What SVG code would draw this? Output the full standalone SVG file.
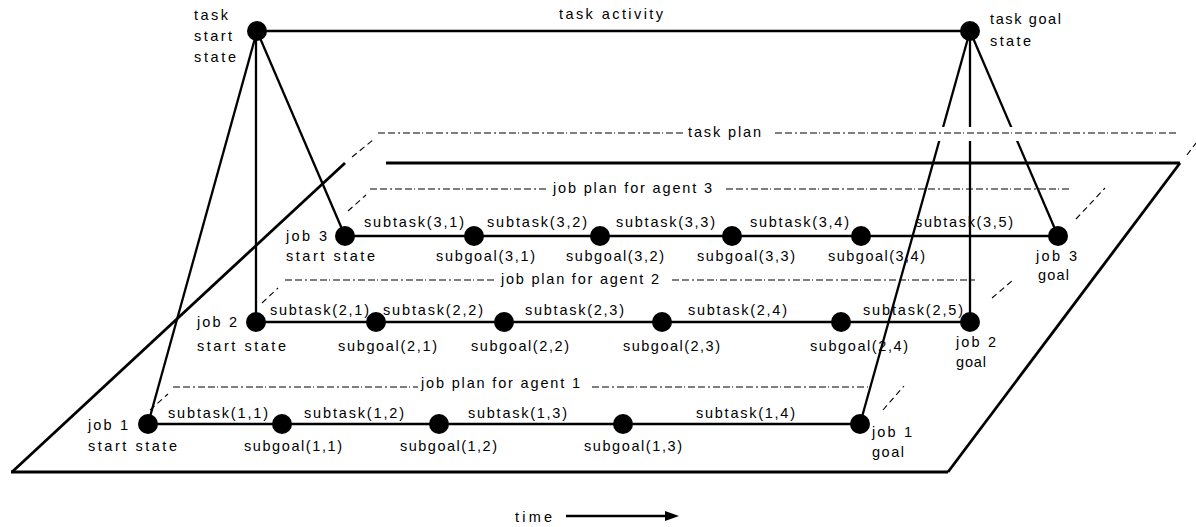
<svg xmlns="http://www.w3.org/2000/svg" width="1196" height="527" viewBox="0 0 1196 527">
<style>
text{font-family:"Liberation Sans",Arial,Helvetica,sans-serif;font-size:14.5px;fill:#000}
.plane{fill:none;stroke:#000;stroke-width:2.8}
.dash{fill:none;stroke:#000;stroke-width:1.2;stroke-dasharray:7 3 7 3 2 3 7 3 7 2 1 3}
.dd{fill:none;stroke:#000;stroke-width:1.1;stroke-dasharray:6 4}
.conn{stroke:#000;stroke-width:2.3;fill:none}
.node{fill:#000}
</style>
<rect width="1196" height="527" fill="#fff"/>
<g id="plane">
<line class="plane" x1="12" y1="472" x2="345" y2="163"/>
<line class="plane" x1="386" y1="163" x2="1180" y2="163"/>
<line class="plane" x1="1180" y1="163" x2="948" y2="472"/>
<line class="plane" x1="948" y1="472" x2="11" y2="472"/>
</g>
<g id="job-plans">
<line class="dash" x1="173" y1="387" x2="418" y2="387"/>
<line class="dash" x1="592" y1="387" x2="868" y2="387"/>
<line class="dd" x1="150" y1="410" x2="168" y2="394"/>
<line class="dd" x1="883" y1="410" x2="904" y2="386"/>
<text x="421" y="388" textLength="159" lengthAdjust="spacing">job plan for agent 1</text>
<line class="dash" x1="285" y1="280" x2="497" y2="280"/>
<line class="dash" x1="672" y1="280" x2="975" y2="280"/>
<line class="dd" x1="262" y1="303" x2="278" y2="288"/>
<line class="dd" x1="992" y1="298" x2="1013" y2="280"/>
<text x="501" y="284" textLength="158" lengthAdjust="spacing">job plan for agent 2</text>
<line class="dash" x1="370" y1="189" x2="548" y2="189"/>
<line class="dash" x1="726" y1="189" x2="1070" y2="189"/>
<line class="dd" x1="348" y1="211" x2="366" y2="195"/>
<line class="dd" x1="1076" y1="219" x2="1105" y2="188"/>
<text x="553" y="193" textLength="159" lengthAdjust="spacing">job plan for agent 3</text>
</g>
<g id="connectors">
<line class="conn" x1="257" y1="31" x2="970" y2="31"/>
<line class="conn" x1="257" y1="31" x2="148" y2="424"/>
<line class="conn" x1="256" y1="31" x2="256" y2="322"/>
<line class="conn" x1="257" y1="31" x2="345" y2="236"/>
<line class="conn" x1="970" y1="31" x2="860" y2="424"/>
<line class="conn" x1="970" y1="31" x2="970" y2="322"/>
<line class="conn" x1="970" y1="31" x2="1058" y2="236"/>
<line class="conn" x1="345" y1="236" x2="1058" y2="236"/>
<line class="conn" x1="256" y1="322" x2="970" y2="322"/>
<line class="conn" x1="148" y1="424" x2="860" y2="424"/>
</g>
<g id="task-plan">
<rect x="378" y="127" width="800" height="14" fill="#fff"/>
<line class="dash" x1="378" y1="133" x2="684" y2="133"/>
<line class="dash" x1="775" y1="133" x2="1177" y2="133"/>
<line class="dd" x1="352" y1="157" x2="373" y2="140"/>
<line class="dd" x1="1187" y1="155" x2="1196" y2="143"/>
<text x="688" y="137" textLength="73" lengthAdjust="spacing">task plan</text>
</g>
<g id="task-activity-label">
<text x="559" y="19" textLength="104" lengthAdjust="spacing">task activity</text>
</g>
<g id="task-start">
<circle class="node" cx="257" cy="31" r="10"/>
<text x="194" y="20" textLength="34" lengthAdjust="spacing">task</text>
<text x="194" y="41" textLength="38" lengthAdjust="spacing">start</text>
<text x="194" y="62" textLength="42" lengthAdjust="spacing">state</text>
</g>
<g id="task-goal">
<circle class="node" cx="970" cy="31" r="10"/>
<text x="990" y="24" textLength="71" lengthAdjust="spacing">task goal</text>
<text x="990" y="46" textLength="41" lengthAdjust="spacing">state</text>
</g>
<g id="job3-start">
<circle class="node" cx="345" cy="236" r="10"/>
<text x="286" y="241" textLength="41" lengthAdjust="spacing">job 3</text>
<text x="286" y="261" textLength="89" lengthAdjust="spacing">start state</text>
</g>
<g id="subgoal-3-1"><circle class="node" cx="474" cy="236" r="10"/><text x="436" y="261" textLength="99" lengthAdjust="spacing">subgoal(3,1)</text></g>
<g id="subgoal-3-2"><circle class="node" cx="600" cy="236" r="10"/><text x="566" y="261" textLength="98" lengthAdjust="spacing">subgoal(3,2)</text></g>
<g id="subgoal-3-3"><circle class="node" cx="732" cy="236" r="10"/><text x="697" y="261" textLength="98" lengthAdjust="spacing">subgoal(3,3)</text></g>
<g id="subgoal-3-4"><circle class="node" cx="861" cy="236" r="10"/><text x="828" y="261" textLength="97" lengthAdjust="spacing">subgoal(3,4)</text></g>
<g id="job3-goal">
<circle class="node" cx="1058" cy="236" r="10"/>
<text x="1036" y="261" textLength="41" lengthAdjust="spacing">job 3</text>
<text x="1038" y="280" textLength="31" lengthAdjust="spacing">goal</text>
</g>
<g id="subtasks-3">
<text x="364" y="227" textLength="100" lengthAdjust="spacing">subtask(3,1)</text>
<text x="487" y="227" textLength="100" lengthAdjust="spacing">subtask(3,2)</text>
<text x="616" y="227" textLength="99" lengthAdjust="spacing">subtask(3,3)</text>
<text x="750" y="227" textLength="99" lengthAdjust="spacing">subtask(3,4)</text>
<text x="915" y="227" textLength="98" lengthAdjust="spacing">subtask(3,5)</text>
</g>
<g id="job2-start">
<circle class="node" cx="256" cy="322" r="10"/>
<text x="197" y="327" textLength="40" lengthAdjust="spacing">job 2</text>
<text x="197" y="351" textLength="89" lengthAdjust="spacing">start state</text>
</g>
<g id="subgoal-2-1"><circle class="node" cx="376" cy="322" r="10"/><text x="338" y="351" textLength="99" lengthAdjust="spacing">subgoal(2,1)</text></g>
<g id="subgoal-2-2"><circle class="node" cx="504" cy="322" r="10"/><text x="471" y="351" textLength="98" lengthAdjust="spacing">subgoal(2,2)</text></g>
<g id="subgoal-2-3"><circle class="node" cx="662" cy="322" r="10"/><text x="623" y="351" textLength="97" lengthAdjust="spacing">subgoal(2,3)</text></g>
<g id="subgoal-2-4"><circle class="node" cx="841" cy="322" r="10"/><text x="810" y="351" textLength="98" lengthAdjust="spacing">subgoal(2,4)</text></g>
<g id="job2-goal">
<circle class="node" cx="970" cy="322" r="10"/>
<text x="956" y="347" textLength="40" lengthAdjust="spacing">job 2</text>
<text x="956" y="367" textLength="30" lengthAdjust="spacing">goal</text>
</g>
<g id="subtasks-2">
<text x="270" y="315" textLength="99" lengthAdjust="spacing">subtask(2,1)</text>
<text x="383" y="315" textLength="100" lengthAdjust="spacing">subtask(2,2)</text>
<text x="525" y="315" textLength="99" lengthAdjust="spacing">subtask(2,3)</text>
<text x="688" y="315" textLength="99" lengthAdjust="spacing">subtask(2,4)</text>
<text x="863" y="315" textLength="100" lengthAdjust="spacing">subtask(2,5)</text>
</g>
<g id="job1-start">
<circle class="node" cx="148" cy="424" r="10"/>
<text x="88" y="430" textLength="40" lengthAdjust="spacing">job 1</text>
<text x="88" y="451" textLength="89" lengthAdjust="spacing">start state</text>
</g>
<g id="subgoal-1-1"><circle class="node" cx="282" cy="424" r="10"/><text x="244" y="451" textLength="98" lengthAdjust="spacing">subgoal(1,1)</text></g>
<g id="subgoal-1-2"><circle class="node" cx="439" cy="424" r="10"/><text x="400" y="451" textLength="97" lengthAdjust="spacing">subgoal(1,2)</text></g>
<g id="subgoal-1-3"><circle class="node" cx="623" cy="424" r="10"/><text x="584" y="451" textLength="98" lengthAdjust="spacing">subgoal(1,3)</text></g>
<g id="job1-goal">
<circle class="node" cx="860" cy="424" r="10"/>
<text x="872" y="437" textLength="40" lengthAdjust="spacing">job 1</text>
<text x="872" y="457" textLength="32" lengthAdjust="spacing">goal</text>
</g>
<g id="subtasks-1">
<text x="168" y="418" textLength="100" lengthAdjust="spacing">subtask(1,1)</text>
<text x="304" y="418" textLength="100" lengthAdjust="spacing">subtask(1,2)</text>
<text x="468" y="418" textLength="99" lengthAdjust="spacing">subtask(1,3)</text>
<text x="696" y="418" textLength="99" lengthAdjust="spacing">subtask(1,4)</text>
</g>
<g id="time-axis">
<text x="515" y="522" textLength="37" lengthAdjust="spacing">time</text>
<line x1="566" y1="516" x2="667" y2="516" stroke="#000" stroke-width="2.4"/>
<polygon points="665,511 679,516 665,521" fill="#000"/>
</g>
</svg>
